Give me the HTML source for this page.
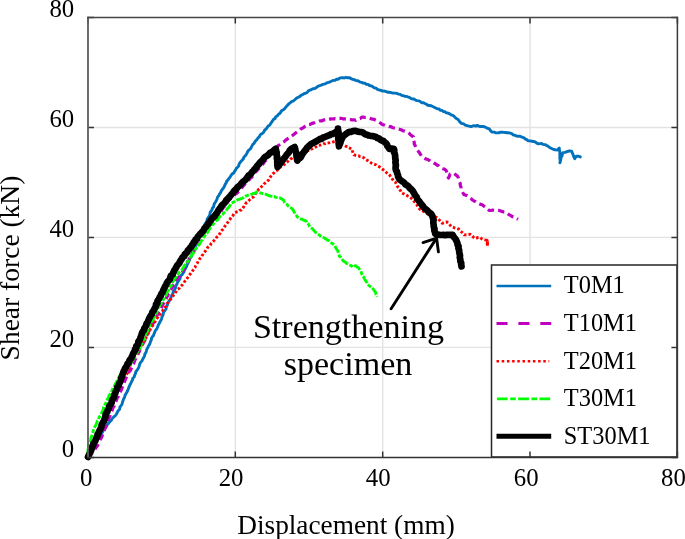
<!DOCTYPE html>
<html><head><meta charset="utf-8"><style>
html,body{margin:0;padding:0;background:#fff;}
svg{display:block;filter:blur(0.3px);}
text{font-family:"Liberation Serif",serif;fill:#000;}
</style></head><body>
<svg width="685" height="539" viewBox="0 0 685 539">
<rect width="685" height="539" fill="#fff"/>
<g stroke="#e3e3e3" stroke-width="1.4"><line x1="235.3" y1="17.5" x2="235.3" y2="457.4"/><line x1="382.7" y1="17.5" x2="382.7" y2="457.4"/><line x1="530.0" y1="17.5" x2="530.0" y2="457.4"/><line x1="88" y1="347.4" x2="677.4" y2="347.4"/><line x1="88" y1="237.4" x2="677.4" y2="237.4"/><line x1="88" y1="127.5" x2="677.4" y2="127.5"/></g>
<g fill="none" stroke-linejoin="round" stroke-linecap="round">
<polyline points="88.0,457.0 88.5,455.3 89.9,454.1 90.6,452.6 91.0,450.9 92.0,449.5 92.8,448.1 93.6,446.7 94.5,445.4 95.4,444.0 96.0,442.5 96.7,440.6 97.6,438.9 99.0,437.5 100.3,434.9 101.9,433.1 103.0,431.0 104.1,429.5 105.4,428.1 106.3,426.5 107.2,424.6 108.7,423.1 110.0,421.5 111.4,420.1 112.3,418.3 113.7,417.0 115.1,415.9 116.2,414.6 117.0,413.0 118.0,410.9 119.6,409.2 119.9,407.2 121.1,405.6 122.1,403.9 122.5,402.0 123.1,400.4 123.7,398.8 124.6,397.3 125.0,395.5 125.8,394.0 126.7,392.5 127.5,391.0 128.2,389.4 128.7,387.8 129.4,386.2 130.1,384.6 131.0,383.1 131.6,381.5 132.5,380.0 132.8,378.3 134.2,377.0 134.6,375.3 135.4,373.8 135.7,372.1 136.7,370.6 138.0,368.9 138.9,367.0 139.5,365.0 140.0,363.3 141.0,361.9 142.1,360.6 142.8,359.0 143.7,357.5 144.6,355.9 144.8,354.1 145.9,352.6 146.4,350.9 146.8,349.2 147.8,347.7 148.4,346.0 149.4,344.6 150.1,343.1 150.5,341.5 151.3,340.0 151.5,338.3 152.4,336.8 153.5,335.5 154.0,333.9 154.7,332.4 155.2,330.9 156.2,329.6 157.1,328.2 157.8,326.7 158.2,325.2 159.0,323.8 159.8,322.3 160.5,320.9 161.4,319.5 161.8,317.8 162.3,316.3 163.1,314.8 163.3,313.1 164.0,311.5 165.2,310.2 166.1,308.8 166.3,307.1 167.1,305.6 167.6,304.0 168.1,302.4 169.1,301.1 170.2,299.7 170.7,298.1 171.2,296.5 171.9,295.0 173.0,293.4 173.2,291.5 174.2,289.9 175.3,288.4 175.8,286.5 176.5,284.8 177.2,283.3 177.8,281.7 178.8,280.4 179.9,279.1 180.3,277.4 180.8,275.7 182.2,274.6 183.1,273.1 184.0,271.7 184.5,270.0 185.5,268.4 186.4,266.8 187.0,265.0 187.9,263.4 188.6,261.6 189.5,260.0 189.9,258.2 191.3,256.8 191.8,255.0 192.3,253.2 193.3,251.7 194.0,250.0 194.7,248.3 195.2,246.6 195.9,244.9 196.7,243.3 197.4,241.7 198.0,240.0 198.7,238.5 199.2,237.0 199.5,235.3 200.3,233.9 200.9,232.4 201.8,231.0 202.7,229.3 203.7,227.6 204.4,225.9 205.0,224.0 206.0,222.5 206.9,220.9 207.2,219.0 208.2,217.5 209.2,216.1 209.9,214.6 210.1,212.8 210.9,211.3 212.0,210.0 212.3,208.2 213.6,206.9 213.9,205.1 214.5,203.5 215.5,202.0 216.4,200.4 217.1,198.7 217.7,196.9 218.9,195.5 219.5,193.9 220.6,192.7 221.1,191.1 222.0,189.8 223.0,188.5 224.0,187.2 224.6,185.7 225.3,184.2 226.2,182.9 226.6,181.3 227.8,180.1 228.8,178.6 230.0,177.2 230.9,175.6 232.0,174.1 233.7,173.1 234.5,171.4 235.6,170.0 236.3,168.4 237.6,167.2 238.7,165.9 239.1,164.0 240.0,162.6 241.1,161.3 242.3,160.0 243.4,158.7 244.0,157.0 245.3,155.8 246.3,154.4 247.1,152.9 247.8,151.3 249.0,150.0 250.3,148.9 251.2,147.4 252.0,145.9 252.8,144.4 254.1,143.3 254.9,141.8 256.0,140.5 257.2,139.2 258.1,137.8 259.4,136.7 260.1,135.0 261.4,133.9 263.0,133.0 264.0,131.6 264.7,130.0 266.2,129.0 267.1,127.5 268.1,126.1 269.6,125.2 270.6,123.7 271.5,122.3 272.5,120.9 273.4,119.4 275.1,118.6 275.7,116.8 277.3,116.0 278.2,114.5 279.7,113.6 280.7,112.1 281.7,110.6 283.4,109.8 284.7,108.6 285.8,107.2 286.9,105.9 288.1,104.6 289.4,103.4 290.7,102.4 292.0,101.3 293.6,100.8 294.8,99.7 296.1,98.5 297.4,97.6 299.0,97.0 300.3,96.0 301.6,95.0 303.1,94.4 304.4,93.5 306.0,93.1 307.4,92.3 308.4,90.8 309.9,90.2 311.4,89.6 312.9,88.7 314.8,88.5 316.3,87.6 317.7,86.5 319.2,85.7 321.0,85.3 322.5,84.4 324.2,84.1 325.7,83.6 327.1,82.6 328.8,82.4 330.3,81.7 331.8,81.0 333.4,80.4 335.1,80.4 336.4,79.2 338.1,79.2 339.5,78.2 341.1,77.8 342.7,77.6 344.3,78.0 345.9,77.3 347.6,77.8 349.2,77.6 350.8,78.4 352.3,79.3 354.1,79.6 355.7,80.4 357.3,80.7 358.8,81.2 360.2,82.1 361.8,82.4 363.2,83.1 364.9,83.2 366.3,84.3 368.1,84.4 369.5,85.5 371.3,85.9 372.8,86.7 374.2,87.8 376.0,88.1 377.5,89.4 379.2,90.0 381.0,90.4 382.6,91.1 384.4,91.0 386.0,91.6 387.6,92.2 389.3,92.3 391.2,92.6 393.0,93.1 394.9,93.1 396.8,93.4 398.6,94.1 400.2,94.4 401.6,95.4 403.2,95.6 404.6,96.3 406.3,96.4 407.8,96.9 409.4,97.3 410.8,98.4 412.3,99.0 414.2,99.0 415.5,100.1 417.1,100.6 418.8,100.9 420.3,101.5 421.6,102.8 423.5,102.7 424.9,103.5 426.4,104.3 427.8,105.3 429.5,105.5 431.2,105.8 432.7,106.5 434.2,107.2 435.7,108.0 437.2,108.8 438.9,108.9 440.2,110.2 441.9,110.4 443.2,111.5 444.9,111.7 446.3,112.8 448.1,113.1 449.7,113.9 451.1,114.8 452.8,115.3 454.2,116.4 455.5,117.9 457.3,118.9 458.7,120.2 459.8,121.9 461.4,123.3 463.6,123.9 465.3,125.1 467.1,125.7 469.0,126.1 470.9,126.6 472.4,126.1 474.0,125.6 475.7,126.1 477.2,125.4 479.0,126.2 480.9,126.5 482.8,126.5 484.5,126.8 486.1,127.5 487.6,128.4 489.3,128.9 490.9,131.3 492.4,132.1 494.1,132.1 495.7,132.7 497.3,132.9 498.9,132.8 500.5,132.2 502.1,132.1 503.7,132.4 505.4,132.5 507.0,132.7 508.6,132.8 510.2,133.2 511.8,133.7 513.2,134.9 515.0,135.3 516.6,136.1 518.3,136.3 520.0,136.2 522.0,137.1 524.1,137.8 525.2,139.1 526.9,139.7 528.2,140.8 530.0,140.9 531.8,141.2 533.6,141.5 535.3,141.9 536.7,143.2 538.4,143.9 541.5,143.4 543.1,144.4 545.0,144.6 546.6,145.4 548.2,146.3 549.6,147.5 551.6,148.5 553.7,149.5 555.5,149.8 557.3,150.0 559.3,148.0 559.3,149.6 559.7,151.3 559.9,152.9 559.8,154.6 560.0,156.2 559.7,157.9 560.2,159.5 560.2,161.1 559.9,162.8 560.5,160.8 560.9,158.7 561.2,157.1 562.1,155.7 562.4,154.1 562.9,152.6 565.0,152.4 567.0,151.6 569.3,151.0 571.6,151.1 572.3,152.9 573.1,154.6 573.7,156.7 574.7,158.7 576.2,156.2 578.3,156.2 580.3,156.9" stroke="#0072bd" stroke-width="2.9"/>
<polyline points="88.0,457.0 89.7,455.7 91.0,454.0 92.9,452.7 94.5,450.9 95.2,449.1 96.1,447.4 97.4,446.0 98.2,444.2 99.0,442.5 99.8,441.0 100.3,439.5 101.2,438.0 101.9,436.5 102.5,435.0 103.1,433.5 103.5,431.8 104.3,430.4 104.8,428.8 105.6,427.3 106.4,425.9 106.7,424.2 107.6,422.6 108.0,420.8 108.6,419.1 109.2,417.4 110.0,415.8 110.4,414.0 111.1,412.3 112.0,410.7 112.5,409.0 113.2,407.3 114.2,405.8 114.6,404.0 115.4,402.5 116.1,401.0 116.7,399.4 117.3,397.9 118.3,396.5 118.9,394.8 119.5,393.0 120.5,391.4 121.4,389.8 122.0,388.0 122.6,386.3 123.1,384.5 124.1,383.0 124.7,381.3 125.3,379.6 126.1,377.9 126.5,376.1 127.6,374.7 128.5,373.2 129.2,371.6 130.5,370.3 131.2,368.7 132.2,367.2 132.5,365.3 133.5,363.8 134.2,362.1 134.8,360.4 135.6,358.8 136.3,357.1 137.0,355.7 138.0,354.3 138.5,352.8 139.4,351.4 139.8,349.8 140.8,348.5 141.6,347.1 142.1,345.5 142.8,344.1 143.6,342.5 144.5,341.0 145.2,339.4 145.8,337.8 146.4,336.1 147.2,334.6 148.2,333.1 148.6,331.4 149.8,330.0 150.3,328.3 150.9,326.8 152.0,325.6 152.5,324.0 153.6,322.7 154.2,321.2 154.8,319.8 155.6,318.3 156.4,317.0 157.1,315.5 158.0,314.0 158.6,312.3 159.4,310.8 160.4,309.3 161.4,307.8 162.1,306.2 162.6,304.5 163.8,303.1 164.5,301.5 165.4,300.1 166.3,298.6 166.8,296.9 167.9,295.6 168.3,293.9 169.5,292.5 170.1,290.9 171.0,289.5 171.8,287.9 173.0,286.5 173.5,284.7 174.7,283.3 175.8,281.9 176.5,280.2 177.5,278.6 178.6,277.1 180.0,275.9 180.9,274.3 182.1,272.8 183.0,271.2 183.5,269.4 184.5,267.9 185.2,266.2 186.3,264.7 187.0,263.0 187.6,261.4 188.9,260.1 189.3,258.4 190.5,257.1 190.9,255.4 192.0,254.0 192.8,252.6 194.0,251.4 194.6,249.9 195.5,248.6 196.7,247.4 197.5,246.0 198.2,244.4 198.8,242.8 200.1,241.6 200.4,239.8 201.1,238.3 202.1,236.8 203.0,235.4 203.9,233.9 204.5,232.3 205.4,230.7 206.6,229.3 207.6,227.8 208.9,226.4 210.0,225.0 211.3,223.8 212.4,222.4 213.7,221.2 214.8,219.8 216.0,218.5 217.0,217.0 218.1,215.6 219.0,214.1 219.9,212.6 221.1,211.3 221.9,209.8 222.8,208.3 224.0,207.0 225.0,205.6 226.2,204.5 226.8,202.9 228.0,201.7 228.9,200.3 230.0,199.0 231.3,197.9 232.4,196.6 234.0,195.9 235.0,194.4 236.5,193.5 237.7,192.3 239.0,191.2 239.9,189.7 241.3,188.7 242.2,187.2 243.3,185.9 244.4,184.7 245.5,183.4 246.8,182.3 247.7,180.9 249.1,179.8 250.1,178.5 251.5,177.4 252.6,176.1 253.7,174.9 254.6,173.4 255.5,172.1 256.7,170.9 257.7,169.6 258.9,168.5 260.0,167.3 261.0,166.0 262.3,164.7 263.5,163.3 264.5,161.7 265.8,160.4 267.0,159.0 268.3,157.6 269.3,156.1 270.5,154.7 272.0,153.5 273.0,152.1 273.8,150.7 275.1,149.6 275.9,148.0 277.0,146.8 278.2,145.6 279.5,144.7 280.8,143.7 282.1,142.7 283.6,141.9 284.9,140.9 286.1,139.8 287.5,138.9 288.9,138.0 290.1,136.8 291.8,136.1 293.1,135.1 294.4,134.0 295.7,132.9 297.1,131.9 298.5,131.0 299.9,130.1 301.1,128.8 302.6,128.1 304.0,127.2 305.3,126.1 306.8,125.3 308.5,124.5 310.3,124.3 312.0,123.4 313.8,122.9 315.5,122.3 317.2,122.1 318.8,121.5 320.3,120.8 322.0,120.8 323.6,120.0 325.2,119.6 327.0,119.2 328.9,119.4 330.7,118.9 332.5,119.0 334.1,118.7 335.8,118.9 337.4,118.7 339.0,118.4 340.9,118.3 342.7,118.8 344.5,118.9 346.4,119.2 348.2,119.4 350.1,119.5 351.9,119.9 353.9,119.8 355.7,120.3 357.1,119.5 358.6,118.9 360.2,118.6 361.5,117.4 363.1,117.0 364.7,117.5 366.3,117.5 367.8,118.1 369.5,118.3 371.0,118.7 372.6,119.2 374.2,119.4 375.7,120.3 377.3,121.0 378.8,122.0 380.3,122.9 381.6,124.0 383.1,124.7 384.7,125.1 386.1,125.8 387.7,126.2 389.3,126.6 390.9,126.7 392.4,127.5 393.9,128.0 395.5,128.3 397.1,128.6 398.6,129.0 400.2,129.5 401.7,130.0 403.1,130.8 404.8,131.0 406.3,131.7 407.8,132.2 409.2,133.3 410.4,134.7 411.9,135.8 413.4,136.8 413.4,138.7 413.6,140.5 414.2,142.3 414.3,144.2 415.4,146.0 416.2,147.9 417.1,149.8 418.3,151.2 419.4,152.7 420.4,154.3 421.4,155.9 422.7,157.2 424.2,158.0 425.6,158.9 427.2,159.2 428.7,160.1 430.1,160.9 431.3,162.0 433.0,162.4 434.3,163.3 435.8,164.0 437.0,165.0 438.6,165.7 439.9,167.0 441.4,168.0 443.0,168.7 444.7,169.3 446.1,170.4 446.8,172.3 447.5,174.2 447.8,176.1 448.5,178.0 449.4,176.1 450.0,174.1 451.8,173.6 453.7,173.2 455.5,174.6 457.4,176.0 458.3,177.8 458.8,179.7 459.2,181.6 460.2,183.4 460.3,185.3 461.0,187.1 461.1,189.0 462.0,190.8 462.9,192.7 463.9,194.5 466.7,195.5 468.3,196.5 469.5,197.9 471.2,198.8 472.5,200.0 474.1,201.0 475.7,201.7 477.1,202.8 478.7,203.5 480.3,204.2 481.9,204.7 483.4,205.7 484.8,206.8 486.4,207.8 487.6,209.2 489.0,210.3 490.8,210.5 492.7,210.1 494.5,210.3 496.4,210.3 498.2,210.3 500.1,210.7 501.9,211.4 503.8,212.0 505.7,212.2 507.5,213.6 509.4,214.9 510.9,215.6 512.4,216.6 514.0,217.0 516.1,218.1 518.0,219.3" stroke="#bf00bf" stroke-width="3.2" stroke-dasharray="6.5 4" stroke-linecap="butt"/>
<polyline points="88.0,457.0 88.6,455.5 89.5,454.1 90.1,452.6 90.9,451.1 91.6,449.7 92.1,448.1 93.0,446.7 93.4,445.0 94.6,443.7 95.0,442.0 95.7,440.5 96.8,439.2 97.2,437.5 97.9,436.0 98.8,434.6 99.3,432.9 100.1,431.5 100.5,429.8 101.4,428.4 102.1,426.9 102.9,425.4 103.4,423.8 104.1,422.3 104.7,420.8 105.3,419.2 105.7,417.6 106.7,416.2 107.2,414.7 107.7,413.1 108.1,411.5 109.2,410.2 109.6,408.6 110.4,407.1 111.1,405.6 111.5,404.0 112.3,402.5 113.1,401.1 113.5,399.4 114.4,398.0 114.9,396.4 115.9,395.0 116.5,393.5 117.0,391.9 117.5,390.2 118.2,388.6 118.9,387.0 120.1,385.5 120.5,383.8 121.3,382.2 121.8,380.5 122.6,378.9 123.8,377.4 125.0,375.9 126.2,374.4 127.5,373.0 128.1,371.3 128.6,369.6 129.4,367.9 129.8,366.2 130.5,364.5 130.8,362.7 131.9,361.4 132.9,360.1 133.6,358.6 134.3,357.0 135.6,355.8 136.3,354.3 137.3,353.0 138.1,351.5 138.7,349.9 139.6,348.5 140.1,346.9 141.3,345.7 141.9,344.1 142.9,342.6 143.6,341.1 144.4,339.5 145.8,338.3 146.5,336.7 147.5,335.4 147.8,333.6 148.9,332.3 149.5,330.8 150.3,329.3 151.0,327.7 152.0,326.3 153.2,324.9 154.2,323.5 154.9,321.9 155.8,319.9 157.1,318.2 158.1,316.9 158.7,315.4 160.0,314.3 160.7,312.9 161.9,311.8 162.9,310.5 163.6,309.0 164.7,307.5 166.0,306.3 166.7,304.6 167.6,303.0 168.9,301.7 169.7,300.1 171.0,298.8 172.0,297.1 173.3,295.5 174.5,294.0 175.6,292.3 176.6,290.9 177.6,289.5 179.1,288.5 180.0,287.0 181.2,285.8 182.6,284.6 183.7,283.2 184.6,281.6 185.8,280.2 186.7,278.9 187.7,277.6 188.7,276.4 189.6,275.0 190.5,273.7 191.9,271.9 193.2,270.0 194.1,268.6 195.1,267.3 195.7,265.7 196.5,264.3 197.5,262.9 198.0,261.3 199.0,260.0 199.9,258.6 201.2,257.4 201.9,255.9 202.9,254.5 203.6,253.0 204.8,251.7 205.9,250.4 206.8,249.0 207.7,247.5 209.1,246.4 210.2,245.2 211.1,243.6 212.4,242.5 213.5,241.2 214.6,239.9 215.7,238.7 216.7,237.2 217.9,236.1 219.0,234.8 220.0,233.4 220.8,231.8 221.8,230.4 223.1,229.2 224.2,227.9 224.9,226.2 226.0,224.8 227.0,223.5 228.0,222.0 228.9,220.6 229.9,219.3 230.9,217.9 231.9,216.6 233.0,215.4 233.9,214.0 235.0,212.7 236.5,212.0 238.2,211.5 239.5,210.4 241.2,210.0 242.4,208.5 243.6,207.0 244.5,205.3 245.5,203.7 246.8,202.3 248.3,201.3 249.4,200.0 250.7,198.9 252.1,197.9 253.5,196.8 254.7,195.3 255.5,193.5 256.7,192.1 257.8,190.5 259.0,189.0 260.4,188.0 261.5,186.6 262.9,185.6 263.9,184.1 265.2,183.0 266.6,182.0 267.8,180.7 269.0,179.5 269.8,177.9 270.7,176.5 271.6,175.0 272.8,173.8 274.0,172.8 275.1,171.5 276.6,170.8 277.8,169.7 278.9,168.5 280.1,167.3 281.5,166.4 283.0,165.6 284.2,164.5 285.6,163.6 286.8,162.4 288.0,161.3 289.1,160.1 290.4,159.1 291.8,158.3 292.9,157.1 294.6,156.2 296.4,155.5 298.2,154.7 300.0,154.0 301.8,153.2 303.7,152.4 305.6,152.0 307.4,151.0 308.9,150.0 310.5,149.1 312.3,148.8 313.9,147.9 315.5,147.2 317.0,146.1 318.6,145.3 320.4,145.1 322.0,144.6 323.6,143.8 325.4,143.6 327.0,143.0 328.7,142.9 330.3,142.5 332.0,142.2 333.6,141.8 335.3,141.6 336.9,142.1 338.4,142.7 340.0,143.2 341.4,144.1 343.0,144.6 344.5,145.3 345.9,146.2 347.6,146.5 348.9,147.7 350.4,148.4 352.0,149.0 352.4,150.9 353.0,152.8 353.8,154.6 355.3,155.3 356.9,155.6 358.5,155.7 360.0,156.6 361.6,156.7 363.1,157.4 364.5,158.2 365.8,159.4 367.2,160.2 368.6,161.1 370.0,162.1 371.4,163.1 373.1,163.7 374.7,164.3 376.3,165.0 377.7,166.1 379.3,166.7 380.6,167.7 381.9,168.9 383.3,169.8 384.7,170.8 385.9,172.0 387.2,173.2 388.6,174.1 389.8,175.3 390.6,176.9 391.6,178.2 392.7,179.5 393.7,180.9 395.2,181.9 396.0,183.4 396.9,185.0 397.6,186.6 399.0,187.9 399.8,189.5 400.7,191.1 401.5,192.7 403.0,193.5 404.5,194.1 406.0,194.9 407.4,195.8 409.0,196.4 410.6,197.6 411.9,199.0 413.3,200.4 414.5,201.9 415.8,203.3 416.9,204.7 417.6,206.6 418.8,208.0 420.1,209.4 421.8,210.1 423.2,211.2 424.8,212.1 426.4,213.0 427.9,213.9 429.4,214.9 431.1,215.6 432.9,216.1 434.7,216.6 436.4,217.3 437.7,218.4 438.8,219.6 440.0,220.7 441.0,222.0 442.2,223.2 443.8,222.9 445.3,222.3 446.9,222.0 448.2,223.0 449.3,224.2 450.4,225.5 451.5,226.7 453.3,227.3 455.0,228.0 456.8,228.4 458.6,229.0 459.6,230.3 460.9,231.4 462.1,232.5 463.3,233.7 464.4,234.9 466.3,234.7 468.3,234.6 470.2,234.3 471.8,235.6 473.3,237.1 474.9,238.4 476.5,238.0 478.0,237.5 479.6,237.2 481.3,238.4 483.1,239.5 485.1,239.9 487.2,240.1 487.5,242.1 487.2,244.0 487.2,246.0" stroke="#ff0000" stroke-width="2.9" stroke-dasharray="2.6 2" stroke-linecap="butt"/>
<path d="M486.6 239.2L487.4 241.5L487.4 247" stroke="#ff0000" stroke-width="2.9" stroke-dasharray="2.6 1.4" stroke-linecap="butt"/>
<polyline points="88.0,457.0 87.9,455.1 87.8,453.2 88.0,451.4 87.9,449.5 88.2,447.6 88.4,446.0 89.1,444.5 89.9,443.0 90.3,441.4 90.7,439.9 90.8,438.2 91.5,436.7 92.1,435.0 92.5,433.3 93.0,431.6 93.5,429.9 94.1,428.3 94.9,426.7 95.8,425.3 96.4,423.8 97.0,422.4 97.4,420.8 98.4,419.5 98.9,417.8 99.8,416.4 100.7,415.0 101.4,413.5 102.1,411.9 102.9,410.4 103.5,408.8 103.6,407.0 104.6,405.6 105.2,404.0 106.1,402.5 106.7,400.9 107.3,399.3 108.3,397.8 108.8,396.1 109.8,394.7 110.8,393.4 111.5,391.9 112.1,390.3 112.7,388.7 113.6,387.3 114.6,385.9 115.1,384.3 116.1,382.9 116.8,381.4 117.3,379.8 118.2,378.4 119.0,376.9 120.0,375.5 121.2,374.5 122.4,373.3 123.4,372.0 124.7,371.0 126.0,370.0 127.2,368.7 127.7,367.0 128.7,365.5 130.1,364.3 130.9,362.8 132.0,361.4 133.0,360.0 133.9,358.5 134.7,356.9 135.9,355.6 136.3,353.8 137.3,352.3 138.1,350.7 139.2,349.4 140.0,347.8 140.5,346.3 141.2,344.8 142.0,343.4 142.4,341.9 143.2,340.4 144.0,339.1 144.1,337.4 145.0,336.0 145.5,334.2 146.3,332.6 147.4,331.1 148.1,329.4 148.6,327.6 149.5,326.0 150.3,324.2 151.2,322.5 152.3,320.9 153.3,319.2 153.7,317.5 154.9,316.2 155.7,314.7 156.5,313.2 157.1,311.5 157.9,310.1 158.1,308.2 158.9,306.8 159.8,305.3 161.0,303.9 161.8,302.3 162.5,300.6 163.8,299.3 164.5,297.6 165.4,296.0 166.4,294.6 166.9,293.0 167.6,291.5 168.6,290.2 169.2,288.6 170.1,287.2 171.0,285.8 172.1,284.5 172.5,282.8 173.1,281.3 173.9,279.8 174.7,278.4 175.9,277.2 176.5,275.6 177.6,274.4 178.6,273.1 179.7,271.9 181.0,270.9 182.2,269.7 182.9,268.1 183.8,266.7 184.6,265.3 185.6,263.9 186.7,262.6 187.9,261.4 188.8,260.0 189.4,258.5 190.2,257.1 191.3,255.9 192.0,254.4 193.3,253.3 193.6,251.6 194.7,250.4 195.5,249.0 196.8,247.6 197.7,246.0 199.1,244.8 200.0,243.1 200.9,241.5 202.2,240.1 203.1,238.6 203.8,237.1 204.9,235.8 205.7,234.3 207.0,233.1 207.9,231.7 208.6,230.1 209.7,228.8 210.5,227.3 211.7,226.1 212.7,224.8 213.8,223.5 215.0,222.3 216.1,220.8 217.7,219.8 218.5,218.1 219.7,216.7 221.2,215.6 222.7,214.4 223.9,212.8 225.4,211.6 226.5,210.0 227.4,208.6 228.7,207.4 229.6,205.9 230.7,204.5 231.5,203.0 233.1,202.4 234.5,201.6 235.9,200.6 237.4,199.9 239.0,199.4 240.7,198.9 242.2,198.2 243.8,197.4 245.2,196.3 246.8,195.7 248.5,195.2 250.2,194.7 251.9,194.1 253.5,193.4 255.5,192.9 257.4,191.9 259.2,192.5 261.1,193.1 262.9,193.7 264.8,194.1 266.7,194.5 268.5,195.5 270.3,196.1 272.3,196.3 274.2,196.4 275.9,197.4 277.8,197.7 279.7,197.8 281.1,198.7 282.6,199.3 283.9,200.6 284.4,202.4 285.6,203.7 287.2,204.6 288.4,206.2 290.0,207.2 291.5,208.2 292.8,209.5 293.7,211.0 294.5,212.6 295.4,214.2 296.5,215.6 297.5,217.1 298.9,218.0 300.3,218.9 302.0,219.2 303.4,220.1 305.0,220.5 306.4,221.5 307.1,223.2 308.6,224.3 309.3,226.0 310.6,227.7 312.5,228.7 313.8,230.4 315.1,231.8 316.6,233.1 318.2,234.2 320.0,235.6 322.0,236.5 323.9,237.7 325.9,238.9 327.3,240.1 329.0,240.7 330.4,241.9 331.8,243.2 333.4,244.3 334.8,245.6 335.6,247.5 336.6,249.2 337.8,250.8 338.3,252.5 338.8,254.3 339.3,256.0 340.7,257.1 341.7,258.4 342.5,259.9 343.7,261.2 345.2,262.1 346.6,263.3 348.2,264.0 349.7,264.9 351.3,265.8 352.6,267.1 354.1,266.3 355.6,265.6 357.0,266.9 358.6,267.8 359.6,269.5 360.8,271.1 361.5,273.0 362.0,274.6 362.8,276.1 364.0,277.4 364.5,279.0 365.6,280.7 366.8,282.3 367.7,284.1 369.0,285.6 370.6,286.7 372.1,287.9 373.4,289.3 374.5,290.8 375.6,292.3 376.0,294.7 377.1,296.8" stroke="#00ff00" stroke-width="2.9" stroke-dasharray="8 1.6 4 1.6" stroke-linecap="butt"/>
<polyline points="88.0,457.0 88.8,455.3 89.6,453.6 90.4,451.9 91.2,450.3 91.8,448.5 92.3,446.7 93.3,445.3 93.4,443.5 94.4,442.1 95.4,440.7 95.9,439.1 96.5,437.5 97.5,436.1 97.6,434.3 98.6,432.9 99.1,431.3 100.0,429.9 100.7,428.4 101.4,426.9 101.6,425.2 102.4,423.7 103.1,422.2 104.2,420.9 104.5,419.2 105.3,417.2 105.6,415.0 106.1,413.3 107.3,412.0 107.6,410.2 108.7,408.8 109.0,407.0 109.7,405.4 110.8,404.0 111.7,402.6 111.8,400.9 112.4,399.4 113.6,398.1 114.1,396.5 114.2,394.9 115.3,393.5 115.6,391.9 116.3,390.3 117.1,388.7 117.4,386.9 118.6,385.5 119.1,383.8 120.0,382.3 120.6,380.6 121.0,378.9 121.6,377.1 122.3,375.3 122.9,373.5 123.5,371.7 124.5,370.0 125.0,368.4 126.0,367.0 127.0,365.6 127.4,363.9 128.7,362.7 129.2,361.1 130.0,359.6 131.2,358.4 131.8,356.8 132.6,355.3 133.1,353.7 133.9,352.3 134.8,350.9 135.0,349.2 136.3,348.0 136.3,346.2 137.5,345.0 138.2,343.5 138.3,341.7 139.3,340.4 140.2,339.0 140.5,337.3 141.3,335.9 141.6,334.2 142.2,332.7 143.0,331.2 144.2,329.9 144.3,328.2 145.4,326.8 146.2,325.4 146.5,323.7 147.8,322.0 148.5,320.0 149.2,318.4 150.1,316.8 151.0,315.3 152.0,313.8 152.4,312.0 153.6,310.7 154.3,309.0 155.2,307.6 155.9,306.1 156.0,304.3 157.4,303.1 157.4,301.3 158.3,299.9 159.2,298.4 159.8,296.9 160.9,295.5 161.3,293.8 162.5,292.5 163.0,290.9 163.7,289.3 164.5,287.8 165.2,286.2 166.2,284.8 166.8,283.1 167.7,281.7 169.0,280.4 170.0,279.0 170.3,277.2 171.1,275.6 172.7,274.5 173.2,272.8 174.5,270.0 175.5,268.6 176.3,267.1 177.1,265.6 178.3,264.3 179.4,263.0 180.0,261.4 181.0,260.0 181.9,258.6 182.7,257.1 184.3,256.2 184.7,254.4 186.0,253.3 187.2,252.1 187.8,250.4 189.1,249.4 190.0,247.9 191.3,246.7 192.0,245.2 193.1,243.9 193.7,242.3 194.8,241.0 195.6,239.5 197.1,238.5 197.7,236.9 198.8,235.6 199.9,234.2 201.3,233.1 202.4,231.6 203.5,230.3 204.3,228.6 205.5,227.3 206.7,226.0 207.7,224.5 208.8,223.1 209.8,221.5 211.0,220.2 211.9,218.6 213.2,217.3 214.7,216.2 215.5,214.5 216.8,213.2 217.7,211.6 218.6,210.0 219.7,208.6 220.7,207.2 221.6,205.7 222.9,204.4 224.3,203.3 225.4,201.9 226.2,200.3 227.4,199.0 228.7,197.9 229.7,196.6 230.8,195.3 231.8,194.0 233.0,192.8 233.8,191.3 235.0,190.1 236.4,188.9 237.4,187.4 238.7,186.3 240.1,185.2 241.3,183.8 242.3,182.4 243.7,181.2 245.2,180.1 246.3,178.7 247.5,177.3 248.4,175.7 250.0,174.7 251.2,173.4 252.1,172.0 253.4,170.9 254.3,169.4 255.6,168.3 256.5,166.9 257.5,165.5 258.8,164.4 259.6,162.9 260.8,161.8 262.0,160.6 263.1,159.4 264.0,158.0 265.1,156.9 266.6,156.1 267.9,155.1 269.0,154.0 270.1,152.8 271.7,152.1 273.2,151.1 274.4,149.8 275.8,148.8 276.1,150.7 276.7,152.5 276.5,154.5 277.1,156.3 276.8,158.1 277.3,159.8 277.2,161.6 277.3,163.3 277.3,165.1 277.6,166.8 278.4,165.3 279.7,164.3 280.6,162.9 281.5,161.5 282.7,160.2 283.6,158.7 284.8,157.4 285.9,156.0 286.8,154.5 287.9,153.4 289.0,152.2 289.6,150.6 290.8,149.4 292.0,148.4 294.7,147.1 295.2,148.9 295.4,150.8 296.2,152.6 296.4,154.5 296.6,156.6 296.9,158.6 297.3,160.6 298.2,159.2 299.6,158.3 300.8,157.1 301.7,155.4 302.6,153.8 303.7,152.3 304.8,150.8 306.0,149.3 307.1,147.7 308.5,146.3 310.0,145.0 311.2,143.8 312.9,143.2 314.3,142.3 315.8,141.6 317.2,140.7 318.6,139.8 320.1,138.9 321.9,138.8 323.2,137.4 324.9,137.0 326.5,136.3 328.1,135.7 329.7,135.1 331.2,134.1 333.1,133.9 334.6,132.8 336.2,131.8 338.0,131.4 338.0,128.6 338.0,130.2 338.5,131.8 338.2,133.4 338.5,135.0 338.4,136.6 338.2,138.3 338.4,139.9 338.8,141.5 338.6,143.1 338.8,144.7 339.0,146.3 339.5,144.5 340.0,142.8 340.9,141.2 341.5,139.5 342.4,137.8 342.7,136.0 344.7,135.1 346.3,133.7 348.0,132.5 349.6,131.9 351.4,131.8 353.0,131.0 354.7,130.8 356.3,131.1 357.9,131.7 359.5,131.9 361.2,132.0 362.8,132.4 364.1,133.5 365.5,134.4 367.2,134.7 368.6,135.5 370.5,135.8 372.4,136.0 374.3,136.5 376.1,137.0 377.4,138.1 379.1,138.5 380.4,139.7 381.9,140.5 383.5,141.0 384.6,142.2 386.0,143.2 387.0,144.5 387.4,146.1 388.5,147.4 389.3,148.8 391.6,148.7 393.9,148.8 394.3,150.4 394.0,152.1 394.7,153.7 395.1,155.3 395.2,157.0 395.3,158.7 395.7,160.3 395.4,162.0 395.6,163.7 395.9,165.4 395.6,167.1 395.6,168.7 396.0,170.4 397.0,171.8 397.2,173.5 398.0,175.0 398.1,176.7 398.9,178.2 399.7,179.7 401.3,180.7 402.8,181.8 404.3,182.8 405.4,184.5 407.1,185.3 408.6,186.6 409.8,188.1 411.3,189.4 412.7,190.8 413.5,192.4 414.5,193.9 415.3,195.5 416.6,196.8 417.1,198.7 418.2,200.1 419.4,201.5 420.4,203.1 421.7,204.5 422.8,205.9 423.8,207.5 425.0,208.6 426.3,209.6 427.6,210.7 428.6,212.0 429.9,213.0 431.2,214.0 432.1,215.4 432.6,216.9 433.0,218.5 433.6,220.0 433.3,221.8 433.4,223.5 433.7,225.3 433.8,227.0 434.5,228.6 434.3,230.4 434.9,232.0 435.2,233.7 436.8,234.2 438.3,234.7 439.9,234.9 441.6,235.0 443.4,234.9 445.1,235.2 446.9,234.9 448.8,234.8 450.8,234.8 452.7,234.9 453.6,236.8 455.0,238.4 456.0,239.8 456.7,241.4 457.4,243.0 457.6,244.8 458.6,246.4 458.4,248.3 459.1,250.0 459.2,251.9 459.6,253.8 460.0,255.6 459.8,257.5 460.3,259.4 460.3,261.2 461.2,262.9 461.2,264.6 461.5,266.4" stroke="#000" stroke-width="6.7"/>
</g>
<g font-size="24.8"><text x="86.2" y="485.5" text-anchor="middle">0</text><text x="231.1" y="485.5" text-anchor="middle">20</text><text x="378.2" y="485.5" text-anchor="middle">40</text><text x="526.2" y="485.5" text-anchor="middle">60</text><text x="673.5" y="485.5" text-anchor="middle">80</text><text x="74.2" y="456.6" text-anchor="end">0</text><text x="74.2" y="346.6" text-anchor="end">20</text><text x="74.2" y="236.6" text-anchor="end">40</text><text x="74.2" y="126.7" text-anchor="end">60</text><text x="74.2" y="16.7" text-anchor="end">80</text></g>
<text x="346" y="533.8" font-size="27.3" text-anchor="middle">Displacement (mm)</text>
<text transform="translate(19.3,268) rotate(-90)" font-size="27.5" text-anchor="middle">Shear force (kN)</text>
<text x="348.5" y="337.6" font-size="34.1" text-anchor="middle">Strengthening</text>
<text x="348" y="375.4" font-size="34.1" text-anchor="middle">specimen</text>
<g stroke="#000" stroke-width="2.9" fill="none" stroke-linecap="round" stroke-linejoin="miter">
<path d="M391.1 308.8L436.2 238.6"/>
<path d="M423 242.6L436.6 238.1L438.4 251.9"/>
</g>
<rect x="491.5" y="265" width="185.5" height="192" fill="#fff" stroke="#262626" stroke-width="1.5"/>
<g stroke-linecap="butt">
<line x1="496.5" y1="286" x2="551.2" y2="286" stroke="#0072bd" stroke-width="2.5"/>
<line x1="496.5" y1="323.6" x2="551.2" y2="323.6" stroke="#bf00bf" stroke-width="3" stroke-dasharray="11.1 10.8"/>
<line x1="496.5" y1="361.2" x2="549.2" y2="361.2" stroke="#ff0000" stroke-width="2.5" stroke-dasharray="2.5 2.7"/>
<line x1="496.9" y1="398.8" x2="550.9" y2="398.8" stroke="#00ff00" stroke-width="2.7" stroke-dasharray="10.7 2.6 5.6 2.4"/>
<line x1="496.5" y1="436.2" x2="551.2" y2="436.2" stroke="#000" stroke-width="5"/>
</g>
<g font-size="24.4">
<text x="563.8" y="293.2">T0M1</text>
<text x="563.8" y="330.9">T10M1</text>
<text x="563.8" y="368.6">T20M1</text>
<text x="563.8" y="406.3">T30M1</text>
<text x="563.8" y="444.1">ST30M1</text>
</g>
<g fill="none">
<path d="M88.0 457.4v-6M88.0 17.5v6M88 457.4h6M677.4 457.4h-6M235.3 457.4v-6M235.3 17.5v6M88 347.4h6M677.4 347.4h-6M382.7 457.4v-6M382.7 17.5v6M88 237.4h6M677.4 237.4h-6M530.0 457.4v-6M530.0 17.5v6M88 127.5h6M677.4 127.5h-6M677.4 457.4v-6M677.4 17.5v6M88 17.5h6M677.4 17.5h-6" stroke="#333" stroke-width="1.5"/>
<line x1="88" y1="16.8" x2="88" y2="458.09999999999997" stroke="#5e5e5e" stroke-width="1.8"/>
<line x1="677.4" y1="16.8" x2="677.4" y2="458.09999999999997" stroke="#3a3a3a" stroke-width="1.5"/>
<line x1="87.1" y1="17.5" x2="678.1" y2="17.5" stroke="#454545" stroke-width="1.5"/>
<line x1="87.1" y1="457.4" x2="678.1" y2="457.4" stroke="#333" stroke-width="1.5"/>
</g>
</svg>
</body></html>
